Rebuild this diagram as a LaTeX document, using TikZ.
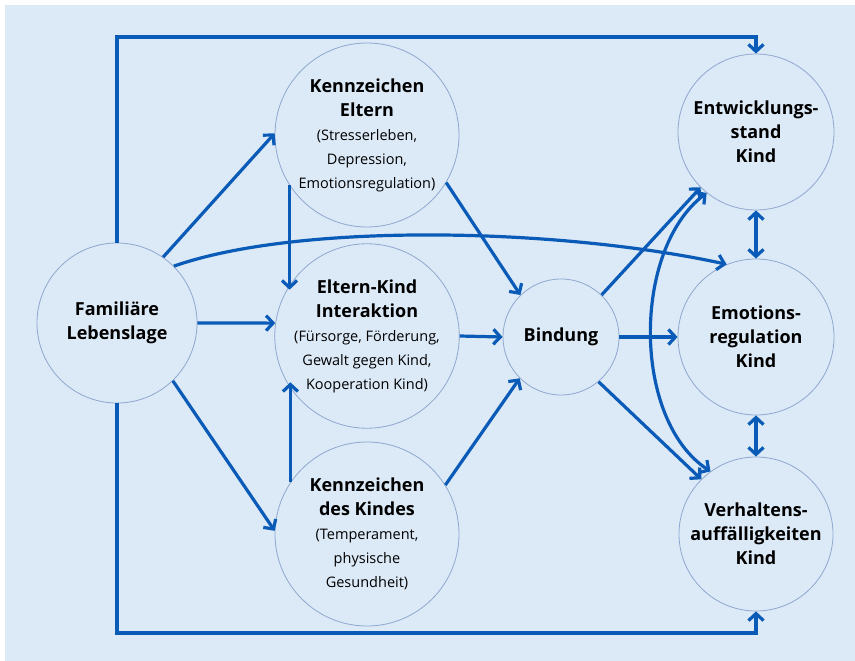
\documentclass[tikz,border=0pt]{standalone}
\usepackage{fontspec}
\setmainfont{Open Sans}
\usetikzlibrary{arrows.meta}
\definecolor{bgblue}{HTML}{DCE9F7}
\definecolor{linkblue}{HTML}{0A5BB8}
\definecolor{rimblue}{HTML}{8EA8CE}
\newcommand{\detailfont}{\fontsize{14.5}{24}\selectfont\mdseries}

\begin{document}
\begin{tikzpicture}[x=1pt,y=-1pt,
  factor/.style={circle,draw=rimblue,line width=0.8pt,fill=bgblue,align=center,
    inner sep=0pt,font=\fontsize{18}{24}\selectfont\bfseries},
  link/.style={draw=linkblue,line width=3.2pt,-{Straight Barb[length=7pt,width=15pt]}},
  both/.style={draw=linkblue,line width=3.2pt,
    {Straight Barb[length=7pt,width=15pt]}-{Straight Barb[length=7pt,width=15pt]}}]
  \useasboundingbox (0,0) rectangle (855,661);
  \fill[bgblue] (5,5) rectangle (855,661);

  \node[factor,minimum size=160pt] (fam) at (117,323) {Familiäre\\Lebenslage};
  \node[factor,minimum size=184pt] (ke) at (367,135)
    {Kennzeichen\\Eltern\\{\detailfont (Stresserleben,}\\{\detailfont Depression,}\\{\detailfont Emotionsregulation)}};
  \node[factor,minimum size=184pt] (eki) at (367,336)
    {Eltern-Kind\\Interaktion\\{\detailfont (Fürsorge, Förderung,}\\{\detailfont Gewalt gegen Kind,}\\{\detailfont Kooperation Kind)}};
  \node[factor,minimum size=184pt] (kk) at (367,534)
    {Kennzeichen\\des Kindes\\{\detailfont (Temperament,}\\{\detailfont physische}\\{\detailfont Gesundheit)}};
  \node[factor,minimum size=116pt] (bind) at (561,337) {Bindung};
  \node[factor,minimum size=156pt] (ent) at (756,132) {Entwicklungs-\\stand\\Kind};
  \node[factor,minimum size=156pt] (emo) at (756,337) {Emotions-\\regulation\\Kind};
  \node[factor,minimum size=154pt] (ver) at (756,534) {Verhaltens-\\auffälligkeiten\\Kind};

  \coordinate (topline) at (400,37);
  \coordinate (botline) at (400,633);

  \draw[link] (fam.north) |- (topline) -| (ent.north);
  \draw[link] (fam.south) |- (botline) -| (ver.south);
  \draw[link] (fam.55) -- (ke.179);
  \draw[link] (fam.0) -- (eki.172);
  \draw[link] (fam.-46) -- (kk.178);
  \draw[link] (fam.45) .. controls (300,222) and (560,228) .. (emo.112);

  \draw[link] (ke.213) -- (ke.213 |- eki.150);
  \draw[link] (kk.146) -- (kk.146 |- eki.210);
  \draw[link] (ke.-31) -- (bind.134);
  \draw[link] (eki.0) -- (bind.180);
  \draw[link] (kk.32) -- (bind.225);

  \draw[link] (bind.46) -- (ent.225);
  \draw[link] (bind.0) -- (emo.180);
  \draw[link] (bind.-50) -- (ver.135);
  \draw[both] (ent.231) .. controls (632,250) and (632,420) .. (ver.126);
  \draw[both] (ent.south) -- (emo.north);
  \draw[both] (emo.south) -- (ver.north);
\end{tikzpicture}
\end{document}
